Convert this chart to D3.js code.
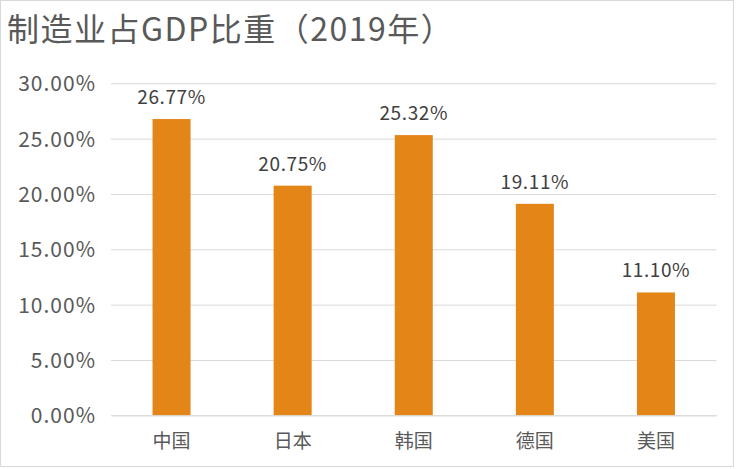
<!DOCTYPE html>
<html><head><meta charset="utf-8">
<script src="https://cdn.jsdelivr.net/npm/d3@7"></script>
<style>body{margin:0;background:#fff}svg{display:block}</style>
</head><body>
<svg id="c" width="736" height="469"></svg>
<script>
const categories = ["中国","日本","韩国","德国","美国"];
const values = [26.77, 20.75, 25.32, 19.11, 11.10];
const yTicks = [0,5,10,15,20,25,30];
const title = "制造业占GDP比重（2019年）";

const W=736,H=469;
const svg=d3.select("#c");
const font="'Noto Sans CJK SC','Microsoft YaHei',sans-serif";
svg.append("rect").attr("x",0.5).attr("y",0.5).attr("width",733).attr("height",466)
  .attr("fill","#fff").attr("stroke","#d9d9d9");
const m={l:111,r:716.5,t:83.3,b:415.3};
const x=d3.scaleBand().domain(categories).range([m.l,m.r]).paddingInner(0.686).paddingOuter(0.343);
const y=d3.scaleLinear().domain([0,30]).range([m.b,m.t]);

svg.append("text").attr("x",7).attr("y",41).text(title)
  .attr("font-family",font).attr("font-size",32).attr("letter-spacing",1.5).attr("fill","#595959");

const ga=svg.append("g").attr("transform",`translate(${m.l},0)`)
  .call(d3.axisLeft(y).tickValues(yTicks).tickSize(-(m.r-m.l)).tickFormat(d=>d.toFixed(2)+"%"));
ga.select(".domain").remove();
ga.selectAll("line").attr("stroke","#d9d9d9").attr("stroke-width",1);
ga.selectAll("text").attr("x",-15).attr("dy","0.36em").attr("font-family",font)
  .attr("font-size",21).attr("letter-spacing",1).attr("fill","#595959");

svg.selectAll(".bar").data(values).join("rect").attr("class","bar")
  .attr("x",(d,i)=>x(categories[i])).attr("width",x.bandwidth())
  .attr("y",d=>y(d)).attr("height",d=>y(0)-y(d)).attr("fill","#e48517");

svg.selectAll(".lbl").data(values).join("text").attr("class","lbl")
  .attr("x",(d,i)=>x(categories[i])+x.bandwidth()/2).attr("y",d=>y(d)-15)
  .attr("text-anchor","middle").attr("font-family",font).attr("font-size",19)
  .attr("letter-spacing",0.6).attr("fill","#404040").text(d=>d.toFixed(2)+"%");

const gx=svg.append("g").attr("transform",`translate(0,${m.b})`)
  .call(d3.axisBottom(x).tickSize(0));
gx.select(".domain").attr("stroke","#d9d9d9");
gx.selectAll("text").attr("dy",0).attr("y",33).attr("font-family",font)
  .attr("font-size",19).attr("fill","#595959");
</script>
</body></html>
